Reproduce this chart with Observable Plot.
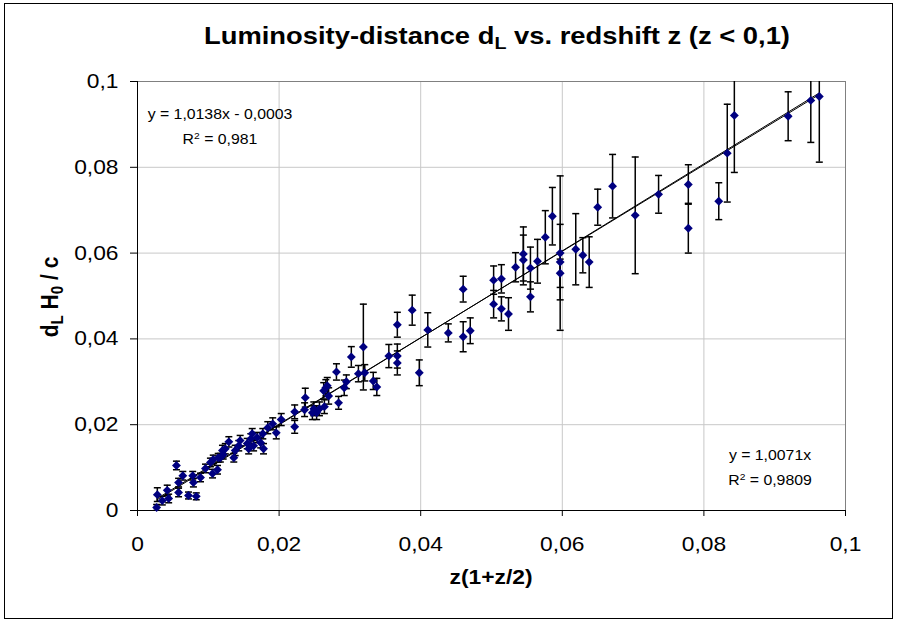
<!DOCTYPE html>
<html>
<head>
<meta charset="utf-8">
<script src="https://cdn.jsdelivr.net/npm/d3@7"></script>
<script src="https://cdn.jsdelivr.net/npm/@observablehq/plot@0.6"></script>
<style>
  html, body { margin: 0; padding: 0; background: #fff; }
  #wrap { position: relative; width: 901px; height: 625px; font-family: "Liberation Sans", Arial, sans-serif; color: #000; }
  #border { position: absolute; left: 4px; top: 3px; width: 889px; height: 616px; border: 1px solid #000; box-sizing: border-box; }
  #chart { position: absolute; left: 0; top: 0; }
  .lbl { position: absolute; white-space: nowrap; }
  #title { left: 0; width: 994px; top: 22px; text-align: center; font-weight: bold; font-size: 24px; transform: scaleX(1.14); }
  #xlabel { left: 0; width: 982px; top: 566px; text-align: center; font-weight: bold; font-size: 20px; transform: scaleX(1.14); }
  #ylabel { left: 50px; top: 297px; font-weight: bold; font-size: 21px; transform: translate(-50%, -50%) rotate(-90deg) scaleY(1.14); }
  .eq { font-size: 14px; text-align: center; line-height: 25px; transform: scaleX(1.13); }
  #eq1 { left: 145px; width: 150px; top: 102px; }
  #eq2 { left: 700px; width: 140px; top: 443px; }
  sub { font-size: 72%; vertical-align: -0.3em; line-height: 0; }
  sup { font-size: 65%; vertical-align: 0.55em; line-height: 0; }
</style>
</head>
<body>
<div id="wrap">
  <div id="chart"></div>
  <div id="border"></div>
  <div class="lbl" id="title">Luminosity-distance d<sub>L</sub> vs. redshift z (z &lt; 0,1)</div>
  <div class="lbl" id="ylabel">d<sub>L</sub> H<sub>0</sub> / c</div>
  <div class="lbl" id="xlabel">z(1+z/2)</div>
  <div class="lbl eq" id="eq1">y = 1,0138x - 0,0003<br>R<sup>2</sup> = 0,981</div>
  <div class="lbl eq" id="eq2">y = 1,0071x<br>R<sup>2</sup> = 0,9809</div>
</div>
<script>
// x = z(1+z/2), y = dL H0 / c, err = error bar half-length
const xValues = [0.0027,0.0028,0.0035,0.0042,0.0044,0.0055,0.0058,0.0058,0.0064,0.0072,0.0083,0.0078,0.0079,0.0089,0.0096,0.0103,0.0113,0.0106,0.0117,0.0120,
0.0107,0.0114,0.0121,0.0124,0.0129,0.0136,0.0138,0.0143,0.0145,0.0155,0.0157,0.0160,0.0162,0.0164,0.0169,0.0174,0.0177,0.0178,0.0184,0.0191,
0.0196,0.0203,0.0222,0.0222,0.0236,0.0237,0.0247,0.0249,0.0253,0.0257,0.0264,0.0266,0.0268,0.0263,0.0270,0.0281,0.0284,0.0292,0.0295,0.0302,
0.0312,0.0321,0.0319,0.0333,0.0338,0.0355,0.0367,0.0367,0.0367,0.0388,0.0398,0.0410,0.0439,0.0460,0.0460,0.0470,0.0503,0.0503,0.0514,0.0514,
0.0524,0.0534,0.0545,0.0545,0.0555,0.0555,0.0565,0.0576,0.0586,0.0597,0.0597,0.0597,0.0619,0.0629,0.0638,0.0650,0.0671,0.0703,0.0736,0.0778,
0.0778,0.0821,0.0833,0.0843,0.0919,0.0951,0.0963];
const yValues = [0.0007,0.0037,0.0023,0.0047,0.0028,0.0105,0.0042,0.0065,0.0081,0.0035,0.0033,0.0081,0.0065,0.0077,0.0098,0.0112,0.0095,0.0086,0.0123,0.0140,
0.0119,0.0123,0.0130,0.0144,0.0160,0.0123,0.0140,0.0151,0.0163,0.0156,0.0144,0.0167,0.0179,0.0151,0.0170,0.0158,0.0179,0.0144,0.0193,0.0202,
0.0181,0.0212,0.0230,0.0195,0.0235,0.0263,0.0228,0.0237,0.0228,0.0237,0.0242,0.0286,0.0291,0.0279,0.0267,0.0323,0.0251,0.0286,0.0300,0.0358,
0.0319,0.0321,0.0381,0.0302,0.0288,0.0360,0.0360,0.0344,0.0433,0.0467,0.0321,0.0421,0.0414,0.0516,0.0405,0.0419,0.0537,0.0481,0.0540,0.0470,
0.0458,0.0567,0.0598,0.0584,0.0565,0.0498,0.0581,0.0637,0.0686,0.0600,0.0579,0.0553,0.0609,0.0595,0.0579,0.0707,0.0756,0.0688,0.0737,0.0760,
0.0658,0.0721,0.0833,0.0921,0.0919,0.0956,0.0965];
const errValues = [0.0007,0.0016,0.0010,0.0012,0.0010,0.0010,0.0010,0.0010,0.0010,0.0008,0.0008,0.0010,0.0010,0.0010,0.0010,0.0010,0.0010,0.0010,0.0010,0.0012,
0.0010,0.0010,0.0010,0.0012,0.0012,0.0010,0.0012,0.0012,0.0012,0.0012,0.0012,0.0012,0.0012,0.0012,0.0012,0.0012,0.0012,0.0012,0.0014,0.0014,
0.0014,0.0014,0.0016,0.0015,0.0016,0.0022,0.0016,0.0016,0.0016,0.0016,0.0016,0.0019,0.0019,0.0019,0.0019,0.0019,0.0015,0.0018,0.0016,0.0024,
0.0019,0.0019,0.0100,0.0020,0.0020,0.0027,0.0028,0.0028,0.0029,0.0035,0.0030,0.0040,0.0021,0.0030,0.0035,0.0030,0.0033,0.0032,0.0033,0.0028,
0.0038,0.0034,0.0063,0.0058,0.0049,0.0035,0.0051,0.0062,0.0067,0.0180,0.0088,0.0033,0.0083,0.0041,0.0059,0.0042,0.0074,0.0136,0.0044,0.0046,
0.0058,0.0043,0.0114,0.0133,0.0057,0.0098,0.0153];

const xTicks = [0, 0.02, 0.04, 0.06, 0.08, 0.1];
const yTicks = [0, 0.02, 0.04, 0.06, 0.08, 0.1];
// trend lines: y = slope * x + intercept
const trendSlopes = [1.0138, 1.0071];
const trendIntercepts = [-0.0003, 0];

const data = xValues.map((x, i) => ({x, y: yValues[i], e: errValues[i]}));
const xExt = d3.extent(xValues);
const trends = trendSlopes.flatMap((s, k) => xExt.map(x => ({k, x, y: s * x + trendIntercepts[k]})));

const fmt = v => v === 0 ? "0" : String(+v.toFixed(2)).replace(".", ",");
const capSymbol = { draw(ctx, size) { const w = Math.sqrt(size / Math.PI); ctx.moveTo(-w, 0); ctx.lineTo(w, 0); } };

const chart = Plot.plot({
  width: 901, height: 625,
  marginLeft: 137, marginRight: 56, marginTop: 81, marginBottom: 115,
  x: {domain: [0, 0.1]},
  y: {domain: [0, 0.1]},
  style: {fontFamily: "'Liberation Sans', Arial, sans-serif", fontSize: "20px", color: "#000", background: "transparent", overflow: "visible"},
  marks: [
    Plot.gridX(xTicks, {stroke: "#c8c8c8", strokeOpacity: 1}),
    Plot.gridY(yTicks, {stroke: "#c8c8c8", strokeOpacity: 1}),
    Plot.frame({stroke: "#808080"}),
    Plot.ruleX([0], {stroke: "#000"}),
    Plot.ruleY([0], {stroke: "#000"}),
    Plot.axisX(xTicks, {tickFormat: fmt, tickSize: 6, tickPadding: 20, label: null, fontSize: 20}),
    Plot.axisY(yTicks, {tickFormat: fmt, tickSize: 7, tickPadding: 12, label: null, fontSize: 20}),
    Plot.line(trends, {x: "x", y: "y", z: "k", stroke: "#000", strokeWidth: 1}),
    Plot.ruleX(data, {x: "x", y1: d => d.y - d.e, y2: d => d.y + d.e, stroke: "#000", strokeWidth: 1.5, clip: "frame"}),
    Plot.dot(data, {x: "x", y: d => d.y + d.e, symbol: capSymbol, r: 3.5, stroke: "#000", strokeWidth: 1.5, clip: "frame"}),
    Plot.dot(data, {x: "x", y: d => d.y - d.e, symbol: capSymbol, r: 3.5, stroke: "#000", strokeWidth: 1.5, clip: "frame"}),
    Plot.dot(data, {x: "x", y: "y", symbol: "diamond2", r: 4, fill: "#000080", stroke: "none"})
  ]
});
chart.querySelectorAll('[aria-label="x-axis tick label"] text, [aria-label="y-axis tick label"] text').forEach(t => {
  t.setAttribute("transform", (t.getAttribute("transform") || "") + " scale(1.14,1)");
});
document.getElementById("chart").appendChild(chart);
</script>
</body>
</html>
